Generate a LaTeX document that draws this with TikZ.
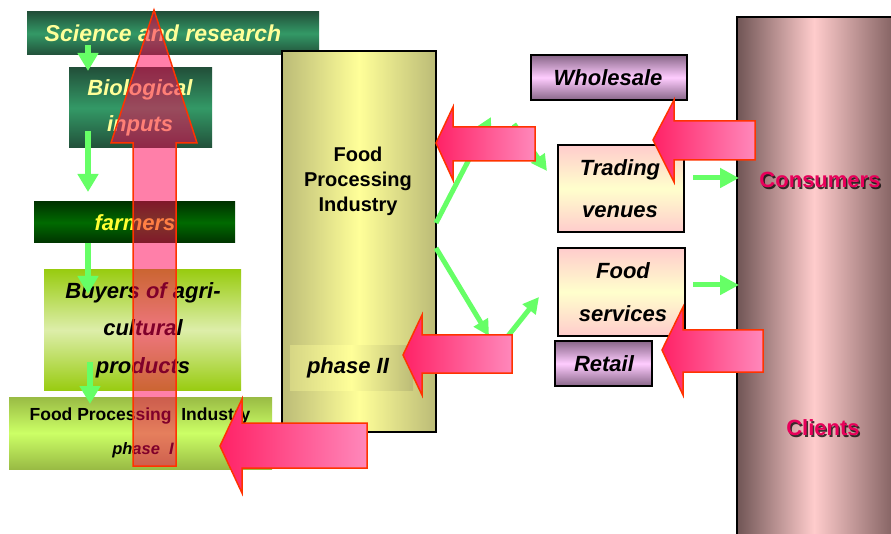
\documentclass[tikz,border=0pt]{standalone}
\usepackage{fontspec}
\setmainfont{Liberation Sans}
\usetikzlibrary{arrows.meta}
\definecolor{GreenA}{HTML}{66FF66}
\definecolor{SciDark}{HTML}{22503A}
\definecolor{SciMid}{HTML}{339966}
\definecolor{FarmDark}{HTML}{003300}
\definecolor{FarmMid}{HTML}{006A00}
\definecolor{BuyEdge}{HTML}{99CC11}
\definecolor{BuyMid}{HTML}{DDEEAA}
\definecolor{PhEdge}{HTML}{99BB44}
\definecolor{PhMid}{HTML}{CCFF66}
\definecolor{ColEdge}{HTML}{BBBB77}
\definecolor{ColMid}{HTML}{FFFF99}
\definecolor{PurEdge}{HTML}{886688}
\definecolor{PurMid}{HTML}{FFCCFF}
\definecolor{TrEdge}{HTML}{FFCCCC}
\definecolor{TrMid}{HTML}{FFFFCC}
\definecolor{ConL}{HTML}{705555}
\definecolor{ConM}{HTML}{FFCCCC}
\definecolor{ConR}{HTML}{886666}
\definecolor{TxtYel}{HTML}{FFFF99}
\definecolor{TxtYel2}{HTML}{FFFF33}
\definecolor{PinkD}{HTML}{FF2266}
\definecolor{PinkL}{HTML}{FF88BB}
\definecolor{PinkUp}{HTML}{FF0055}
\definecolor{RedOr}{HTML}{FF3300}
\definecolor{ConTxt}{HTML}{E8005A}
\begin{document}
\begin{tikzpicture}[x=1pt,y=-1pt,
  box/.style={rectangle, inner sep=0pt, outer sep=0pt},
  lbl/.style={inner sep=0pt, align=center, font=\fontsize{22}{36}\selectfont\bfseries\itshape},
  garrow/.style={draw=GreenA, line width=6pt, -{Triangle[length=18pt,width=20pt]}},
  gdiag/.style={draw=GreenA, line width=5pt, -{Triangle[length=16pt,width=16pt]}},
  pinkar/.style={draw=RedOr, line width=1.5pt, left color=PinkD, right color=PinkL, line join=miter},
  contxt/.style={inner sep=0pt, font=\fontsize{22}{26}\selectfont\bfseries}
]
\useasboundingbox (0,0) rectangle (891,534);
\fill[white] (0,0) rectangle (891,534);

% left chain boxes
\node[box, minimum width=292pt, minimum height=43pt, top color=SciDark, bottom color=SciDark, middle color=SciMid] (sci) at (173,33.5) {};
\node[box, minimum width=143pt, minimum height=80pt, top color=SciDark, bottom color=SciDark, middle color=SciMid] (bio) at (140.5,108) {};
\node[box, minimum width=201pt, minimum height=41pt, top color=FarmDark, bottom color=FarmDark, middle color=FarmMid] (farm) at (134.5,222.5) {};
\node[box, minimum width=197pt, minimum height=120pt, top color=BuyEdge, bottom color=BuyEdge, middle color=BuyMid] (buy) at (142.5,330) {};
\node[box, minimum width=263pt, minimum height=72pt, top color=PhEdge, bottom color=PhEdge, middle color=PhMid] (ph1) at (140.5,433) {};

\node[lbl, font=\fontsize{23}{36}\selectfont\bfseries\itshape, text=TxtYel] (scit) at (163,33) {Science and research};
\node[lbl, text=TxtYel] (biot) at (140,108) {Biological\\inputs};
\node[lbl, text=TxtYel2] (farmt) at (135,223) {farmers};
\node[lbl, font=\fontsize{22}{37.5}\selectfont\bfseries\itshape] (buyt) at (143,330) {Buyers of agri-\\cultural\\products};
\node[inner sep=0pt, font=\fontsize{17.5}{20}\selectfont\bfseries] (ph1a) at (140,416) {Food Processing~ Industry};
\node[inner sep=0pt, font=\fontsize{16.5}{18}\selectfont\bfseries\itshape] (ph1b) at (143,450) {phase~~I};

% green arrows left
\coordinate (a1s) at (88,45); \coordinate (a1e) at (88,71);
\coordinate (a2s) at (88,131); \coordinate (a2e) at (88,192);
\coordinate (a3s) at (88,243); \coordinate (a3e) at (88,294);
\coordinate (a4s) at (90,362); \coordinate (a4e) at (90,404);
\draw[garrow] (a1s) -- (a1e);
\draw[garrow] (a2s) -- (a2e);
\draw[garrow] (a3s) -- (a3e);
\draw[garrow] (a4s) -- (a4e);

% Food processing column
\node[box, draw=black, line width=1.5pt, minimum width=154pt, minimum height=381pt, left color=ColEdge, right color=ColEdge, middle color=ColMid] (fpi) at (359,241.5) {};
\node[box, minimum width=123pt, minimum height=44pt, left color=ColEdge!60!ColMid, right color=ColEdge, middle color=ColMid] (ph2box) at (351.5,368) {};
\node[inner sep=0pt, align=center, font=\fontsize{20}{25}\selectfont\bfseries] (fpit) at (358,181) {Food\\Processing\\Industry};
\node[lbl] (ph2t) at (348,368) {phase II};

% right boxes
\node[box, draw=black, line width=1.5pt, minimum width=156pt, minimum height=45pt, top color=PurEdge, bottom color=PurEdge, middle color=PurMid] (whole) at (609,77.5) {};
\node[lbl] (wholet) at (608,78) {Wholesale};
\node[box, draw=black, line width=1.2pt, minimum width=126pt, minimum height=87pt, top color=TrEdge, bottom color=TrEdge, middle color=TrMid] (trad) at (621,188.5) {};
\node[lbl, font=\fontsize{22}{42}\selectfont\bfseries\itshape] (tradt) at (620,189) {Trading\\venues};
\node[box, draw=black, line width=1.2pt, minimum width=127pt, minimum height=88pt, top color=TrEdge, bottom color=TrEdge, middle color=TrMid] (fserv) at (621.5,292) {};
\node[lbl, font=\fontsize{22}{43}\selectfont\bfseries\itshape] (fservt) at (623,292.5) {Food\\services};
\node[box, draw=black, line width=1.5pt, minimum width=97pt, minimum height=45pt, top color=PurEdge, bottom color=PurEdge, middle color=PurMid] (retail) at (603.5,363.5) {};
\node[lbl] (retailt) at (604,364) {Retail};

% consumers column
\path[left color=ConL, right color=ConR, middle color=ConM] (737,17) rectangle (891,534);
\draw[black, line width=2pt] (737,534) -- (737,17) -- (891,17);
\node[contxt, text=black, opacity=0.75] (consh) at (821.5,181.5) {Consumers};
\node[contxt, text=ConTxt] (cons) at (820,180) {Consumers};
\node[contxt, text=black, opacity=0.75] (clish) at (824.5,429.5) {Clients};
\node[contxt, text=ConTxt] (cli) at (823,428) {Clients};

% green arrows middle/right
\coordinate (d1s) at (436,223); \coordinate (d1e) at (491,117);
\coordinate (d2s) at (514,124); \coordinate (d2e) at (547,171);
\coordinate (d3s) at (436,248); \coordinate (d3e) at (489,336);
\coordinate (d4s) at (508,336); \coordinate (d4e) at (539,297);
\draw[gdiag] (d1s) -- (d1e);
\draw[gdiag] (d2s) -- (d2e);
\draw[gdiag] (d3s) -- (d3e);
\draw[gdiag] (d4s) -- (d4e);
\coordinate (c1s) at (693,178); \coordinate (c1e) at (739,178);
\coordinate (c2s) at (693,285); \coordinate (c2e) at (739,285);
\draw[gdiag, -{Triangle[length=19pt,width=19pt]}] (c1s) -- (c1e);
\draw[gdiag, -{Triangle[length=19pt,width=19pt]}] (c2s) -- (c2e);

% pink arrows pointing left
\path[pinkar] (436,143) -- (453,107) -- (453,127) -- (535,127) -- (535,161) -- (453,161) -- (453,180) -- cycle;
\path[pinkar] (403,355) -- (422,315) -- (422,335) -- (512,335) -- (512,373) -- (422,373) -- (422,395) -- cycle;
\path[pinkar] (220,446) -- (242,399) -- (242,423) -- (367,423) -- (367,468) -- (242,468) -- (242,493) -- cycle;
\path[pinkar] (653,140) -- (674,100) -- (674,121) -- (755,121) -- (755,160) -- (674,160) -- (674,182) -- cycle;
\path[pinkar] (662,350) -- (683,307) -- (683,330) -- (763,330) -- (763,372) -- (683,372) -- (683,395) -- cycle;

% big upward arrow
\path[fill=PinkUp, fill opacity=0.5, draw=RedOr, line width=1.5pt, line join=miter]
  (154,10) -- (197,143) -- (176,143) -- (176,466) -- (133,466) -- (133,143) -- (111,143) -- cycle;
\end{tikzpicture}
\end{document}
